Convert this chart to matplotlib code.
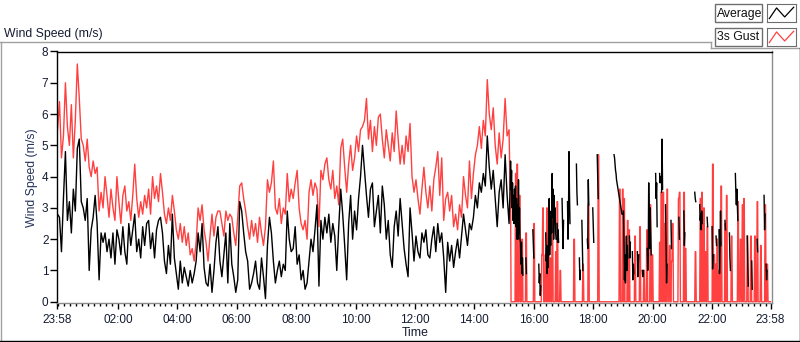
import numpy as np
import matplotlib
matplotlib.use("Agg")
import matplotlib.pyplot as plt
from matplotlib.lines import Line2D
from matplotlib.patches import Rectangle

plt.rcParams['font.family'] = ['Liberation Sans', 'DejaVu Sans']

# ---- data (minutes after 23:58) ----
# dense part, one reading every 4 minutes from 23:58 to ~15:10
early_step = 4
gust_early = [
    5.5, 6.4, 4.6, 5.3, 7.0, 5.6, 5.0, 6.3, 4.6, 5.8,
    7.6, 6.5, 5.2, 5.0, 4.5, 5.2, 4.3, 4.0, 4.5, 4.1,
    4.3, 2.9, 3.5, 3.0, 4.0, 3.4, 2.7, 3.6, 3.0, 2.6,
    4.0, 3.2, 2.5, 3.4, 3.7, 2.9, 3.2, 2.6, 3.4, 4.4,
    3.3, 2.7, 3.2, 2.8, 3.4, 3.0, 3.6, 2.8, 4.0, 3.3,
    3.7, 3.2, 4.1, 3.5, 2.8, 2.5, 3.0, 2.6, 3.4, 2.9,
    2.3, 2.0, 2.5, 1.9, 2.4, 1.8, 2.2, 1.5, 1.7, 1.3,
    1.9, 3.0, 2.6, 3.1, 2.3, 1.9, 1.3, 2.1, 2.8, 2.1,
    2.7, 2.9, 2.9, 2.5, 2.1, 2.9, 2.6, 2.8, 2.7, 2.2,
    1.8, 2.7, 3.7,
    3.8, 3.3, 2.9, 2.4, 2.0, 2.6, 2.1, 2.5, 1.9, 2.7,
    2.2, 1.8, 2.4, 3.9, 3.5, 3.8, 4.5, 3.0, 2.8, 3.3,
    2.5, 3.0, 2.8, 4.1, 3.2, 3.6, 3.3, 3.8, 4.2, 3.0,
    2.5, 2.3, 2.6, 2.0, 3.5, 3.9, 3.4, 3.8, 3.6, 2.4,
    4.2, 3.9, 4.4, 4.6, 3.9, 3.6, 4.2, 3.3, 3.7, 3.1,
    4.9, 5.2, 4.3, 3.5, 4.4, 5.0, 4.2, 4.6, 5.3, 4.8,
    5.5, 5.6, 5.8, 6.5, 5.2, 5.8, 4.8, 5.6, 5.0, 5.9,
    6.0, 5.2, 4.6, 5.5, 5.0, 4.5, 5.4, 4.8, 6.1, 5.2,
    4.4, 5.0, 4.4, 5.3, 4.8, 5.7, 4.0, 3.5, 3.9, 3.3,
    2.8, 3.6, 4.3, 3.5, 3.0,
    3.7, 2.9, 3.9, 4.3, 4.8, 3.4, 4.6, 2.6, 3.3, 3.5,
    2.9, 3.4, 2.4, 2.8, 2.3, 3.1, 2.7, 4.0, 3.4, 3.0,
    4.5, 3.3, 4.1, 4.7, 5.0, 5.6, 4.9, 5.8, 5.3, 7.1,
    6.0, 5.5, 6.2, 5.0, 4.4, 5.4, 4.6, 5.2, 6.5, 5.3,
    5.5,
]
avg_early = [
    2.8, 2.7, 1.6, 3.3, 4.8, 2.6, 3.2, 2.2, 3.6, 2.9,
    4.9, 5.2, 3.2, 3.0, 2.6, 3.3, 1.0, 2.3, 2.7, 3.4,
    2.5, 0.7, 2.2, 1.9, 2.2, 1.6, 2.0, 1.4, 2.2, 1.2,
    2.3, 2.0, 1.5, 2.4, 1.6, 1.2, 2.5, 1.8, 2.3, 2.8,
    1.6, 2.0, 1.4, 2.4, 1.8, 2.5, 2.6, 1.7, 2.2, 1.4,
    2.3, 2.6, 2.7, 2.2, 1.3, 0.9, 1.8, 1.2, 2.8, 1.4,
    0.9, 0.4, 1.3, 0.6, 1.1, 0.8, 0.5, 1.0, 0.6, 0.9,
    1.3, 2.2, 1.6, 2.5, 1.1, 0.6, 0.5, 1.2, 0.3, 1.0,
    1.9, 2.4, 1.3, 0.8, 1.5, 2.2, 0.6, 2.5, 1.2, 0.8,
    0.3, 0.7, 3.2,
    2.9, 2.2, 1.6, 1.3, 0.4, 0.6, 0.9, 1.3, 0.6, 0.4,
    1.4, 0.8, 0.1, 1.8, 2.7, 2.2, 1.3, 0.6, 1.0, 1.3,
    0.8, 1.2, 1.0, 2.9, 2.0, 1.6, 1.7, 2.4, 1.2, 1.5,
    0.7, 1.0, 0.4, 0.6, 1.3, 2.0, 1.6, 2.3, 3.1, 0.5,
    2.6, 2.0, 2.7, 2.2, 2.8, 1.9, 2.5, 2.1, 1.0, 2.4,
    3.6, 2.8, 1.8, 0.7, 2.5, 3.4, 2.0, 2.9, 2.3, 3.3,
    4.0, 5.0, 4.2, 3.4, 2.7, 3.6, 3.8, 2.4, 2.9, 3.4,
    2.2, 3.7, 3.1, 2.0, 2.6, 1.5, 1.1, 2.4, 2.9, 2.1,
    3.3, 2.5, 1.7, 1.2, 0.8, 3.0, 2.2, 1.3, 2.1, 1.6,
    1.4, 2.2, 1.9, 2.3, 1.5,
    1.4, 2.0, 2.4, 1.6, 2.5, 1.9, 2.2, 1.4, 0.3, 1.9,
    1.3, 1.8, 1.1, 1.6, 2.0, 1.4, 2.1, 2.8, 2.3, 1.8,
    2.5, 2.3, 2.7, 3.4, 3.0, 3.8, 3.5, 4.1, 3.7, 5.3,
    4.3, 3.6, 4.2, 3.3, 2.4, 3.5, 3.9, 3.0, 4.7, 3.4,
    2.5,
]

# sparse part, one-minute grid: gust sits at 0 apart from short spikes
late_start = 914
late_end = 1440
gust_spike_t = [914, 925, 928, 933, 938, 946, 962, 978, 980, 985, 988, 991, 995, 999,
                1006, 1009, 1015, 1043, 1061, 1072, 1092, 1135, 1141, 1144, 1151, 1154,
                1166, 1176, 1184, 1190, 1197, 1201, 1216, 1219, 1223, 1226, 1231, 1236,
                1240, 1242, 1254, 1256, 1265, 1268, 1288, 1298, 1301, 1305, 1308, 1312,
                1323, 1326, 1329, 1332, 1336, 1340, 1348, 1351, 1361, 1374, 1379, 1383,
                1386, 1393, 1400, 1408, 1413, 1420, 1429, 1433]
gust_spike_v = [3.6, 4.1, 4.4, 3.4, 2.0, 2.2, 2.5, 1.5, 3.0, 1.5, 3.0, 2.9, 1.4, 2.9,
                1.6, 3.2, 1.0, 2.0, 1.2, 3.1, 4.7, 3.6, 3.6, 3.3, 2.6, 2.3,
                2.1, 2.4, 1.0, 2.3, 3.1, 1.5, 1.9, 3.5, 3.5, 2.5, 3.6, 1.8,
                1.3, 2.5, 3.3, 3.5, 3.5, 1.7, 1.6, 3.3, 3.5, 3.0, 1.6, 2.4,
                4.4, 1.5, 1.2, 2.0, 1.0, 3.7, 2.5, 3.4, 2.1, 3.2, 2.0, 3.1,
                3.3, 2.1, 2.1, 2.1, 3.2, 1.8, 3.1, 1.2]

# average: runs of consecutive minutes, gaps elsewhere
avg_run_start = [914, 946, 960, 972, 986, 1009, 1019, 1030, 1048, 1054, 1059, 1070,
                 1081, 1090, 1124, 1143, 1155, 1161, 1171, 1181, 1191, 1208, 1216,
                 1220, 1228, 1239, 1255, 1265, 1287, 1297, 1312, 1322, 1330, 1336,
                 1348, 1357, 1369, 1393, 1402, 1413, 1427, 1431]
avg_run_vals = [
    [3.6, 4.5, 3.6, 4.2, 3.0, 3.8, 2.6, 3.4, 2.5, 3.6, 3.0, 3.7, 2.4, 3.3, 2.0, 3.1,
     2.0, 3.9, 2.2, 3.0, 2.0, 1.9, 1.2, 1.9, 0.9, 1.4, 0.85],
    [1.4, 0.9],
    [2.3, 1.8, 1.4],
    [1.2, 0.6, 0.9, 0.2, 0.5],
    [2.2, 1.3, 1.8, 0.9, 1.5, 1.1, 2.4, 3.3, 1.5, 2.6, 1.8, 2.9, 2.2, 4.1, 2.7, 3.6,
     2.0, 3.4, 2.6, 3.0, 2.2, 2.0],
    [2.5, 1.9, 2.3, 1.9],
    [3.3, 2.4, 1.7, 2.6],
    [3.2, 2.0, 2.8, 4.8, 3.5, 2.5],
    [4.4, 3.5, 3.1],
    [1.4, 0.7, 1.0],
    [2.6, 1.8, 1.0],
    [2.0, 1.7, 3.9, 3.1],
    [3.0, 2.4, 1.9],
    [4.7, 4.0, 3.3],
    [4.7, 4.6, 4.4, 4.2, 4.1, 3.9, 3.8, 3.7, 3.6, 3.5, 3.4, 3.3, 3.2, 3.1, 3.0, 2.9,
     2.8, 2.8],
    [2.9, 2.0, 0.7, 1.5, 0.6, 1.2, 2.1, 1.0, 1.8, 1.4],
    [2.1, 1.4, 1.9],
    [1.6, 0.7, 1.2, 0.9],
    [1.6, 0.8, 1.2, 1.5],
    [1.0, 0.8, 1.0],
    [1.7, 1.0, 1.5, 3.8, 2.6, 1.7, 3.0, 2.2, 1.5],
    [4.1, 3.3, 3.8, 2.4],
    [4.1, 3.8, 4.0],
    [3.5, 5.2, 3.6],
    [3.1, 1.8, 0.6, 1.2],
    [2.6, 1.7],
    [2.7, 2.0],
    [2.9, 1.8, 2.2],
    [3.5, 3.3, 3.2],
    [3.1, 2.6, 2.8, 2.3, 2.9, 2.5],
    [2.7, 2.4],
    [2.4, 1.05, 1.5],
    [2.1, 1.8],
    [2.3, 0.9, 1.6, 2.9, 1.8],
    [2.6, 2.3],
    [2.2, 1.4, 1.0],
    [4.1, 3.5, 3.1, 3.6, 3.1, 2.6],
    [2.1, 1.2, 0.5],
    [1.3, 0.4],
    [2.0, 1.6],
    [3.4, 2.3, 2.8],
    [1.2, 0.7, 1.0],
]

tick_minutes = [0, 122, 242, 362, 482, 602, 722, 842, 962, 1082, 1202, 1322, 1440]
tick_labels = ['23:58', '02:00', '04:00', '06:00', '08:00', '10:00', '12:00',
               '14:00', '16:00', '18:00', '20:00', '22:00', '23:58']

# ---- assemble series ----
t_early = np.arange(len(gust_early)) * early_step
t_late = np.arange(late_start, late_end + 1)
gust_late = np.zeros(len(t_late))
for t, v in zip(gust_spike_t, gust_spike_v):
    i = t - late_start
    gust_late[i:i + 2] = v
avg_late = np.full(len(t_late), np.nan)
for s, vals in zip(avg_run_start, avg_run_vals):
    i = s - late_start
    avg_late[i:i + len(vals)] = vals

t_all = np.concatenate([t_early, t_late])
gust_all = np.concatenate([gust_early, gust_late])
avg_all = np.concatenate([avg_early, avg_late])

# ---- figure ----
W, H = 800, 342
fig = plt.figure(figsize=(W / 100, H / 100), dpi=100)


def box(x0, y0, x1, y1):
    return [x0 / W, 1 - y1 / H, (x1 - x0) / W, (y1 - y0) / H]


ax = fig.add_axes(box(57.5, 51.5, 772, 303))
ax.plot(t_all, gust_all, color='#ff4040', lw=1.0)
ax.plot(t_all, avg_all, color='black', lw=1.0)
ax.set_xlim(0, 1443)
ax.set_ylim(-0.04, 8)

ax.set_xticks(tick_minutes)
ax.set_xticklabels(tick_labels)
minor = [m for m in range(2, 1440, 12) if m not in tick_minutes]
ax.set_xticks(minor, minor=True)
ax.set_yticks(range(9))
ax.tick_params(axis='x', which='major', length=4, width=1, pad=4, labelsize=8.5)
ax.tick_params(axis='x', which='minor', length=2.3, width=1)
ax.tick_params(axis='y', length=5, width=1, pad=1.5, labelsize=8.5)
ax.tick_params(colors='black', labelcolor='#141c30')

for side, col in [('left', 'black'), ('top', 'black'),
                  ('right', '#8c8c8c'), ('bottom', '#8c8c8c')]:
    ax.spines[side].set_color(col)
    ax.spines[side].set_linewidth(1)

ax.set_xlabel('Time', fontsize=8.8, color='#141c30', labelpad=1)
ax.set_ylabel('Wind Speed (m/s)', fontsize=8.8, color='#24345a', labelpad=3)

# chart caption
fig.text(4 / W, 1 - 37 / H, 'Wind Speed (m/s)', fontsize=8.8, color='#141c30',
         ha='left', va='baseline')

# outer frame
frame = [((0, 711), (42, 42), '#a0a0a0'), ((711, 711), (42, 48), '#a0a0a0'),
         ((711, 800), (48, 48), '#a0a0a0'), ((0.5, 0.5), (42, 341), '#a0a0a0'),
         ((0, 800), (340.5, 340.5), 'black'), ((799.5, 799.5), (48, 341), 'black')]
for xs, ys, col in frame:
    fig.add_artist(Line2D([x / W for x in xs], [1 - y / H for y in ys],
                          color=col, lw=1, transform=fig.transFigure))

# legend
for name, col, y0 in [('Average', 'black', 4), ('3s Gust', '#ff4040', 28)]:
    fig.add_artist(Rectangle((715 / W, 1 - (y0 + 18) / H), 47 / W, 18 / H,
                             facecolor='white', edgecolor='#6e6e6e', lw=1,
                             transform=fig.transFigure))
    fig.text(717 / W, 1 - (y0 + 9.5) / H, name, fontsize=8.8, color='#101010',
             ha='left', va='center')
    iax = fig.add_axes(box(767, y0, 796, y0 + 18))
    iax.plot([0.08, 0.33, 0.61, 0.92], [0.19, 0.78, 0.28, 0.82], color=col, lw=0.9)
    iax.set_xlim(0, 1)
    iax.set_ylim(0, 1)
    iax.set_xticks([])
    iax.set_yticks([])
    for sp in iax.spines.values():
        sp.set_color('#6e6e6e')

fig.savefig('out.png', dpi=100)
